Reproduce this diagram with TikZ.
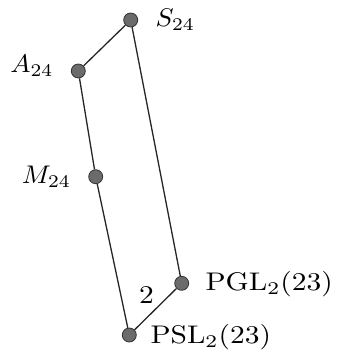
\documentclass[tikz,border=0pt]{standalone}
\begin{document}
\begin{tikzpicture}[x=1pt,y=-1pt,
  grp/.style={circle,draw=black!80,fill=black!58,line width=0.8pt,minimum size=14pt,inner sep=0pt},
  lbl/.style={inner sep=0pt,xscale=2.7,yscale=2.55,transform shape},
  ulbl/.style={inner sep=0pt,xscale=2.95,yscale=2.55,transform shape},
  edge/.style={line width=1.3pt,black!85}]
\useasboundingbox (0,0) rectangle (339,356);
\node[grp] (S) at (130.7,20) {};
\node[grp] (A) at (78.3,71) {};
\node[grp] (M) at (95.7,176.7) {};
\node[grp] (G) at (181.7,283.3) {};
\node[grp] (P) at (129.3,335) {};
\draw[edge] (S) -- (A);
\draw[edge] (A) -- (M);
\draw[edge] (M) -- (P);
\draw[edge] (S) -- (G);
\draw[edge] (G) -- (P);
\node[ulbl,anchor=base] (two) at (146.5,303) {$2$};
\node[lbl,anchor=base west] (Sl) at (155,27) {$S_{24}$};
\node[lbl,anchor=base east] (Al) at (54,72.7) {$A_{24}$};
\node[lbl,anchor=base east] (Ml) at (71.5,183.3) {$M_{24}$};
\node[ulbl,anchor=base west] (Gl) at (205,290.7) {$\mathrm{PGL}_2(23)$};
\node[ulbl,anchor=base west] (Pl) at (150,343.3) {$\mathrm{PSL}_2(23)$};
\end{tikzpicture}
\end{document}
